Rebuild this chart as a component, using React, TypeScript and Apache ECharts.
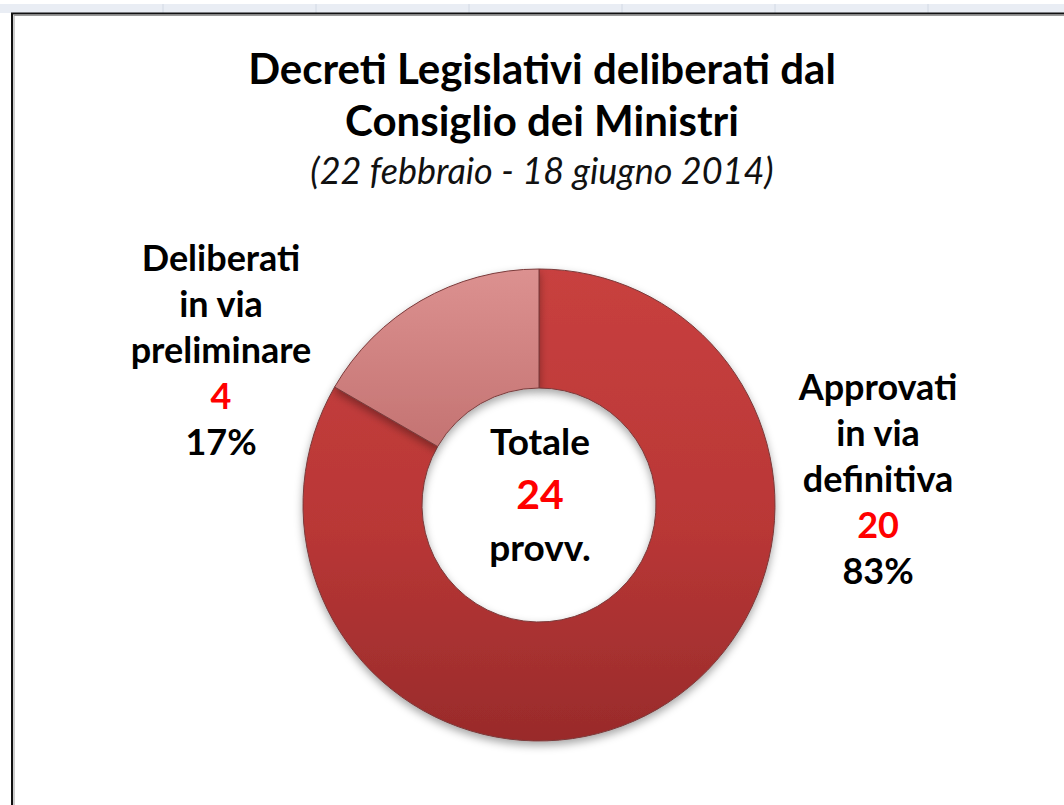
import React, { useEffect, useRef } from "react";
import * as echarts from "echarts";

const titleLines = ["Decreti Legislativi deliberati dal", "Consiglio dei Ministri"];
const subtitle = "(22 febbraio - 18 giugno 2014)";
const categories = ["Approvati in via definitiva", "Deliberati in via preliminare"];
const values = [20, 4];
const centerLabels = ["Totale", "provv."];
const gridColumnsX = [163, 316, 469, 622, 775, 928];

const FONT = "Lato, 'Open Sans', sans-serif";

export default function App() {
  const ref = useRef<HTMLDivElement>(null);
  useEffect(() => {
    if (!ref.current) return;
    const chart = echarts.init(ref.current, null, { renderer: "svg" });
    const total = values.reduce((a, b) => a + b, 0);
    const cx = 539;
    const cy = 505;

    const sliceColors = [
      new echarts.graphic.LinearGradient(0, 0, 0, 1, [
        { offset: 0, color: "#c8403f" },
        { offset: 0.55, color: "#b93736" },
        { offset: 1, color: "#992b2b" },
      ]),
      new echarts.graphic.LinearGradient(0, 0, 0, 1, [
        { offset: 0, color: "#dc9190" },
        { offset: 1, color: "#c47372" },
      ]),
    ];

    const labelPos = [
      { x: 878, y: 478 },
      { x: 221, y: 349 },
    ];

    const frame: any[] = [
      { type: "rect", shape: { x: 0, y: 0, width: 1064, height: 13 }, style: { fill: "#e9edf4" }, silent: true },
      { type: "rect", shape: { x: 0, y: 0, width: 1064, height: 4 }, style: { fill: "#ffffff" }, silent: true },
      ...gridColumnsX.map((x) => ({
        type: "line",
        shape: { x1: x, y1: 4, x2: x, y2: 13 },
        style: { stroke: "#d2d9e4", lineWidth: 1 },
        silent: true,
      })),
      { type: "line", shape: { x1: 11, y1: 13.5, x2: 1064, y2: 13.5 }, style: { stroke: "#111", lineWidth: 2 }, silent: true },
      { type: "line", shape: { x1: 12, y1: 13, x2: 12, y2: 805 }, style: { stroke: "#111", lineWidth: 2 }, silent: true },
      { type: "line", shape: { x1: 14, y1: 15.5, x2: 1064, y2: 15.5 }, style: { stroke: "#9a9a9a", lineWidth: 1 }, silent: true },
      { type: "line", shape: { x1: 14, y1: 15, x2: 14, y2: 805 }, style: { stroke: "#9a9a9a", lineWidth: 1 }, silent: true },
    ];

    const titles: any[] = [
      ...titleLines.map((t, i) => ({
        type: "text",
        x: 542,
        y: 68 + i * 52,
        style: {
          text: t,
          fill: "#000",
          font: `bold 42px ${FONT}`,
          textAlign: "center",
          textVerticalAlign: "middle",
        },
      })),
      {
        type: "text",
        x: 542,
        y: 170,
        style: {
          text: subtitle,
          fill: "#111",
          font: `italic 36px ${FONT}`,
          textAlign: "center",
          textVerticalAlign: "middle",
        },
      },
      {
        type: "text",
        x: cx + 1,
        y: cy - 12,
        style: {
          text: `{a|${centerLabels[0]}}\n{b|${total}}\n{a|${centerLabels[1]}}`,
          textAlign: "center",
          textVerticalAlign: "middle",
          rich: {
            a: { fontFamily: FONT, fontWeight: "bold", fontSize: 37, lineHeight: 53, fill: "#000", align: "center" },
            b: { fontFamily: FONT, fontWeight: "bold", fontSize: 41, lineHeight: 53, fill: "#ff0000", align: "center" },
          },
        },
      },
    ];

    chart.setOption({
      animation: false,
      backgroundColor: "#ffffff",
      series: [
        {
          type: "pie",
          center: [cx, cy],
          radius: [117, 236],
          startAngle: 90,
          clockwise: true,
          avoidLabelOverlap: false,
          itemStyle: {
            borderColor: "#7a3b3b",
            borderWidth: 1,
            shadowBlur: 8,
            shadowOffsetY: 4,
            shadowColor: "rgba(0,0,0,0.35)",
          },
          label: {
            show: true,
            position: "outside",
            formatter: (p: any) =>
              `{n|${String(p.name).replace(" in via ", "\nin via\n")}}\n{v|${p.value}}\n{n|${Math.round(p.percent)}%}`,
            rich: {
              n: { fontFamily: FONT, fontWeight: "bold", fontSize: 36, lineHeight: 46, color: "#000", align: "center" },
              v: { fontFamily: FONT, fontWeight: "bold", fontSize: 36, lineHeight: 46, color: "#ff0000", align: "center" },
            },
          },
          labelLine: { show: false },
          labelLayout: (params: any) => {
            const pos = labelPos[params.dataIndex];
            return { x: pos.x, y: pos.y, align: "center", verticalAlign: "middle" };
          },
          emphasis: { disabled: true },
          data: categories.map((name, i) => ({
            name,
            value: values[i],
            itemStyle: { color: sliceColors[i] },
          })),
        },
      ],
      graphic: [...frame, ...titles],
    });
    return () => chart.dispose();
  }, []);
  return (
    <div
      ref={ref}
      style={{ position: "fixed", left: 0, top: 0, width: 1064, height: 805, background: "#fff" }}
    />
  );
}
